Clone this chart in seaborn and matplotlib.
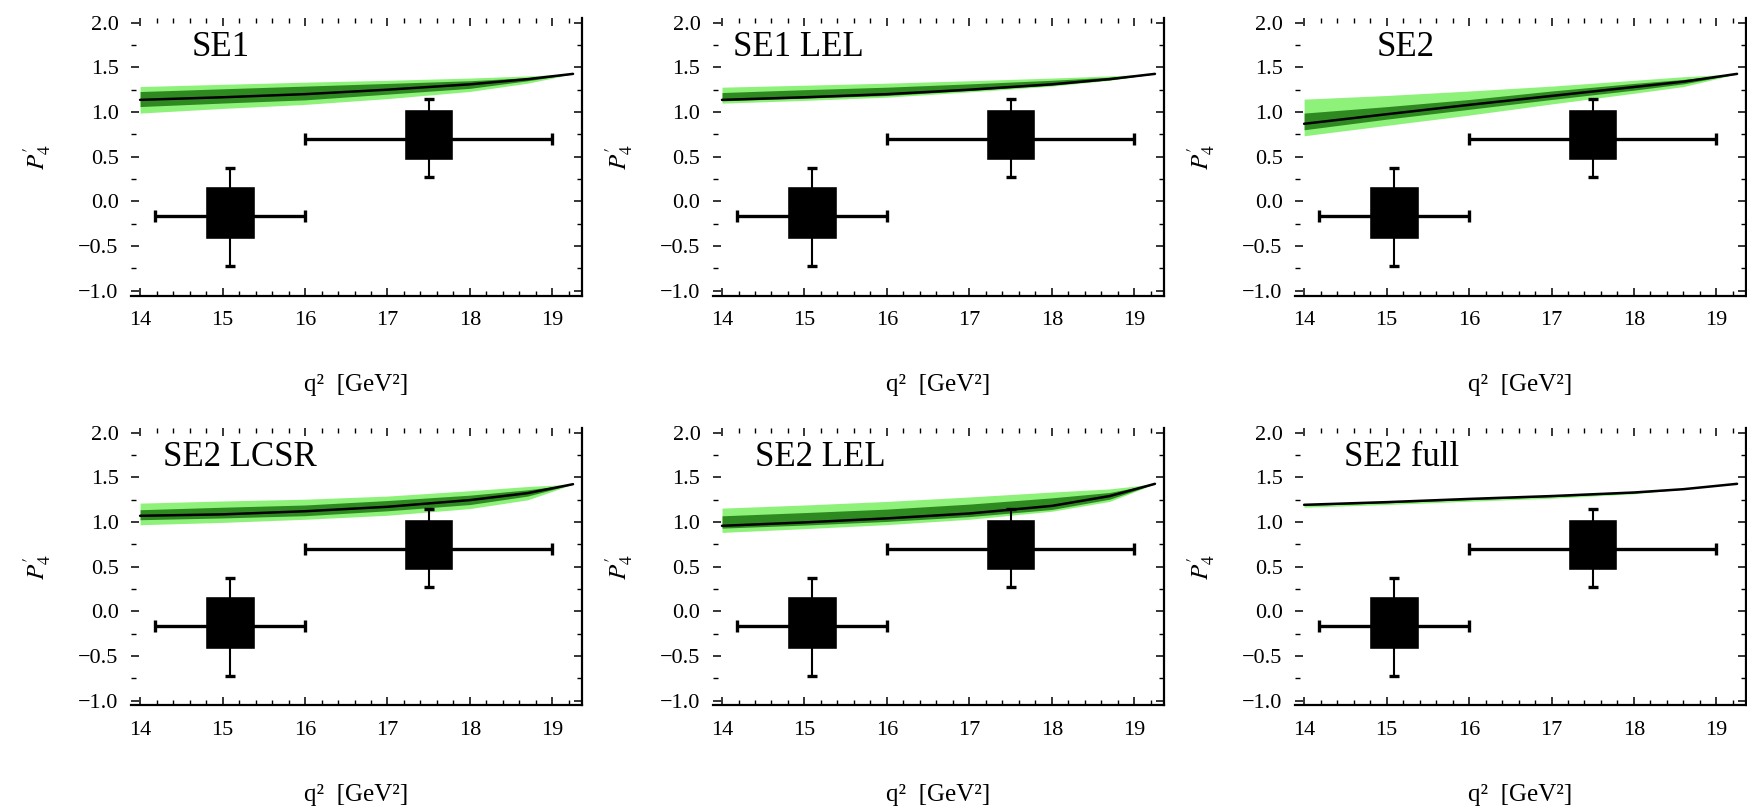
import numpy as np
import pandas as pd
import matplotlib
matplotlib.use("Agg")
import matplotlib.pyplot as plt
import seaborn as sns
from matplotlib.ticker import MultipleLocator, FuncFormatter

# ---------------- data ----------------
panel_titles = ["SE1", "SE1 LEL", "SE2", "SE2 LCSR", "SE2 LEL", "SE2 full"]

q2_grid = [
    [14.0, 15.0, 16.0, 17.0, 18.0, 18.7, 19.25],
    [14.0, 15.0, 16.0, 17.0, 18.0, 18.7, 19.25],
    [14.0, 15.0, 16.0, 17.0, 18.0, 18.6, 19.25],
    [14.0, 15.0, 16.0, 17.0, 18.0, 18.7, 19.25],
    [14.0, 15.0, 16.0, 17.0, 18.0, 18.7, 19.25],
    [14.0, 15.0, 16.0, 17.0, 18.0, 18.6, 19.25],
]
central = [
    [1.136, 1.165, 1.200, 1.250, 1.310, 1.368, 1.427],
    [1.136, 1.165, 1.200, 1.250, 1.310, 1.368, 1.427],
    [0.868, 0.975, 1.080, 1.180, 1.280, 1.340, 1.427],
    [1.069, 1.085, 1.120, 1.170, 1.245, 1.323, 1.423],
    [0.957, 0.995, 1.040, 1.095, 1.180, 1.290, 1.427],
    [1.192, 1.222, 1.258, 1.290, 1.330, 1.367, 1.427],
]
outer_hi = [
    [1.285, 1.310, 1.334, 1.355, 1.380, 1.404, 1.427],
    [1.278, 1.300, 1.323, 1.350, 1.380, 1.404, 1.427],
    [1.144, 1.185, 1.235, 1.290, 1.355, 1.395, 1.427],
    [1.211, 1.235, 1.255, 1.290, 1.350, 1.397, 1.423],
    [1.155, 1.190, 1.230, 1.280, 1.335, 1.370, 1.427],
    [1.194, 1.224, 1.260, 1.292, 1.332, 1.367, 1.427],
]
outer_lo = [
    [0.988, 1.040, 1.085, 1.150, 1.230, 1.323, 1.427],
    [1.099, 1.130, 1.166, 1.225, 1.290, 1.355, 1.427],
    [0.734, 0.850, 0.965, 1.090, 1.210, 1.285, 1.427],
    [0.969, 0.995, 1.030, 1.075, 1.150, 1.248, 1.423],
    [0.883, 0.925, 0.970, 1.030, 1.120, 1.230, 1.427],
    [1.165, 1.195, 1.232, 1.266, 1.315, 1.367, 1.427],
]
inner_hi = [
    [1.229, 1.260, 1.290, 1.320, 1.350, 1.385, 1.427],
    [1.218, 1.250, 1.278, 1.315, 1.355, 1.390, 1.427],
    [0.988, 1.060, 1.140, 1.235, 1.320, 1.365, 1.427],
    [1.137, 1.165, 1.190, 1.240, 1.300, 1.360, 1.423],
    [1.069, 1.105, 1.144, 1.200, 1.270, 1.330, 1.427],
    [1.192, 1.222, 1.258, 1.290, 1.330, 1.367, 1.427],
]
inner_lo = [
    [1.061, 1.100, 1.136, 1.200, 1.265, 1.350, 1.427],
    [1.125, 1.155, 1.185, 1.240, 1.300, 1.360, 1.427],
    [0.801, 0.920, 1.030, 1.140, 1.245, 1.315, 1.427],
    [1.025, 1.045, 1.070, 1.125, 1.195, 1.290, 1.423],
    [0.931, 0.965, 1.006, 1.060, 1.140, 1.255, 1.427],
    [1.184, 1.214, 1.250, 1.282, 1.324, 1.367, 1.427],
]

# experimental bins
bin_lo = [14.18, 16.0]
bin_hi = [16.0, 19.0]
bin_center = [15.09, 17.5]
exp_val = [-0.17, 0.70]
err_lo = [-0.73, 0.27]
err_hi = [0.37, 1.145]
box_lo = [-0.42, 0.46]
box_hi = [0.17, 1.03]
box_width = 0.6

xtick_vals = [14, 15, 16, 17, 18, 19]
ytick_vals = [-1.0, -0.5, 0.0, 0.5, 1.0, 1.5, 2.0]

# ---------------- style ----------------
sns.set_theme(style="ticks")
plt.rcParams["font.family"] = ["Liberation Serif", "DejaVu Serif"]
plt.rcParams["mathtext.fontset"] = "stix"

light_green = "#8ef27a"
dark_green = "#2e8a20"

fig = plt.figure(figsize=(17.47, 8.07), dpi=100)

col_left = [0.0750, 0.4081, 0.7413]
row_bottom = [0.6338, 0.1258]
ax_w, ax_h = 0.2582, 0.3436


def fmt_tick(v, _pos):
    return f"{v:.1f}".replace("-", "\u2212")


for i, title in enumerate(panel_titles):
    r, c = divmod(i, 3)
    ax = fig.add_axes([col_left[c], row_bottom[r], ax_w, ax_h])

    ax.fill_between(q2_grid[i], outer_lo[i], outer_hi[i], color=light_green, lw=0, zorder=1)
    ax.fill_between(q2_grid[i], inner_lo[i], inner_hi[i], color=dark_green, lw=0, zorder=2)
    df = pd.DataFrame({"q2": q2_grid[i], "P4": central[i]})
    sns.lineplot(data=df, x="q2", y="P4", ax=ax, color="black", lw=1.8, zorder=3)

    bc = np.array(bin_center)
    ev = np.array(exp_val)
    ax.bar(bc, np.array(box_hi) - np.array(box_lo), bottom=box_lo,
           width=box_width, color="black", zorder=4)
    ax.errorbar(bc, ev, xerr=[bc - np.array(bin_lo), np.array(bin_hi) - bc],
                fmt="none", ecolor="black", elinewidth=2.4, capsize=4.6,
                capthick=2.4, zorder=5)
    ax.errorbar(bc, ev, yerr=[ev - np.array(err_lo), np.array(err_hi) - ev],
                fmt="none", ecolor="black", elinewidth=1.5, capsize=3.6,
                capthick=2.4, zorder=5)

    ax.set_xlim(13.89, 19.36)
    ax.set_ylim(-1.055, 2.05)
    ax.set_xticks(xtick_vals)
    ax.set_yticks(ytick_vals)
    ax.xaxis.set_minor_locator(MultipleLocator(0.2))
    ax.yaxis.set_minor_locator(MultipleLocator(0.25))
    ax.yaxis.set_major_formatter(FuncFormatter(fmt_tick))

    ax.tick_params(which="both", direction="in", top=True, right=True,
                   left=True, bottom=True, colors="black", labelsize=16)
    ax.tick_params(which="major", length=6, width=1.1)
    ax.tick_params(which="minor", length=3.5, width=1.0)
    ax.tick_params(axis="x", which="major", pad=11)
    ax.tick_params(axis="y", which="major", pad=9)

    for side in ["left", "top"]:
        ax.spines[side].set_visible(False)
    for side in ["bottom", "right"]:
        ax.spines[side].set_linewidth(1.6)
        ax.spines[side].set_color("black")

    ax.set_xlabel("q\u00b2  [GeV\u00b2]", fontsize=18, labelpad=32, color="black")
    ax.set_ylabel(r"$P_4'$", fontsize=18, labelpad=18, color="black")

    title_x = [14.63, 14.13, 14.88, 14.28, 14.40, 14.48][i]
    ax.text(title_x, 1.72, title, fontsize=25, ha="left", va="center", color="black")

fig.savefig("out.png", dpi=100)
